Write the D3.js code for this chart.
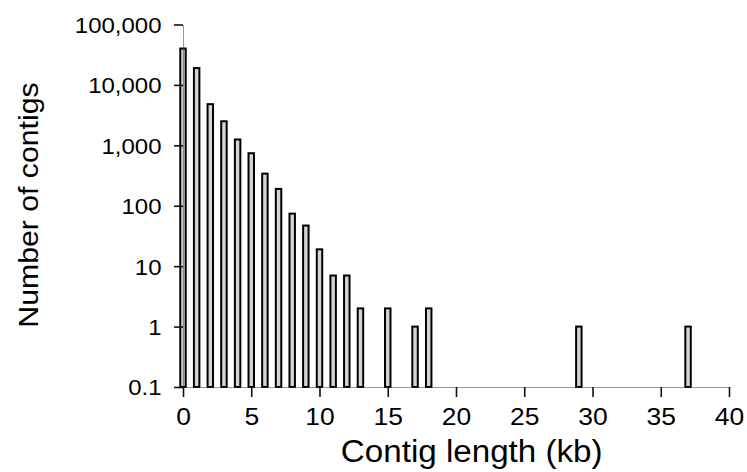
<!DOCTYPE html>
<html>
<head>
<meta charset="utf-8">
<script src="https://cdn.jsdelivr.net/npm/d3@7"></script>
<style>
  html, body { margin: 0; padding: 0; background: #fff; }
  svg text { font-family: "Liberation Sans", Arial, sans-serif; fill: #000; }
</style>
</head>
<body>
<svg id="chart" width="747" height="472"></svg>
<script>
// Contig length histogram (1 kb bins), counts on a log scale
const lengthsKb = [0, 1, 2, 3, 4, 5, 6, 7, 8, 9, 10, 11, 12, 13, 15, 17, 18, 29, 37];
const contigCounts = [40000, 19000, 4800, 2500, 1250, 740, 340, 190, 74, 47, 19, 7, 7, 2, 2, 1, 2, 1, 1];

const yTickValues = [0.1, 1, 10, 100, 1000, 10000, 100000];
const yTickLabels = ["0.1", "1", "10", "100", "1,000", "10,000", "100,000"];
const xTickValues = [0, 5, 10, 15, 20, 25, 30, 35, 40];

const svg = d3.select("#chart");

const x = d3.scaleLinear().domain([0, 40]).range([183, 729]);
const y = d3.scaleLog().domain([0.1, 100000]).range([387, 24.5]);

// bars rise from the 0.1 baseline
const barHalf = (x(0.4) - x(0)) / 2;
svg.append("g")
  .selectAll("rect")
  .data(lengthsKb.map((k, i) => ({ k, n: contigCounts[i] })))
  .join("rect")
  .attr("x", d => x(d.k) - barHalf)
  .attr("width", barHalf * 2)
  .attr("y", d => y(d.n))
  .attr("height", d => y(0.1) - y(d.n))
  .attr("fill", "#d4d4d4")
  .attr("stroke", "#000")
  .attr("stroke-width", 2);

// y axis
const yAxisG = svg.append("g")
  .attr("transform", `translate(${x(0)},0)`)
  .call(d3.axisLeft(y)
    .tickValues(yTickValues)
    .tickFormat((d, i) => yTickLabels[i])
    .tickSize(9)
    .tickSizeOuter(0));

// x axis
const xAxisG = svg.append("g")
  .attr("transform", `translate(0,${y(0.1)})`)
  .call(d3.axisBottom(x)
    .tickValues(xTickValues)
    .tickFormat(d3.format("d"))
    .tickSize(10)
    .tickSizeOuter(0));

[yAxisG, xAxisG].forEach(g => {
  g.select(".domain")
    .attr("stroke", "#333")
    .attr("stroke-width", 1)
    .attr("stroke-dasharray", "1,1");
  g.selectAll(".tick line")
    .attr("stroke", "#111")
    .attr("stroke-width", 1.6);
});

const ySx = 1.09;
yAxisG.selectAll(".tick text")
  .attr("font-size", 22)
  .attr("x", -21.5 / ySx)
  .attr("dy", "0.36em")
  .attr("transform", `scale(${ySx},1)`);

const xSx = 1.15;
xAxisG.selectAll(".tick text")
  .attr("font-size", 23)
  .attr("y", 22)
  .attr("dy", "0.71em")
  .attr("transform", `scale(${xSx},1)`);

// axis titles
svg.append("text")
  .attr("transform", "translate(471.7,462) scale(1.07,1)")
  .attr("text-anchor", "middle")
  .attr("font-size", 31)
  .text("Contig length (kb)");

svg.append("text")
  .attr("transform", "translate(38.3,205) rotate(-90) scale(1.08,1)")
  .attr("text-anchor", "middle")
  .attr("font-size", 28)
  .text("Number of contigs");
</script>
</body>
</html>
